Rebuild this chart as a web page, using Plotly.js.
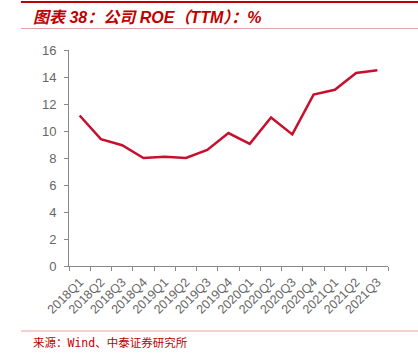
<!DOCTYPE html>
<html><head><meta charset="utf-8">
<script src="https://cdn.plot.ly/plotly-3.0.1.min.js"></script>
<style>html,body{margin:0;padding:0;background:#fff;}#c{width:418px;height:354px;}</style>
</head><body><div id="c"></div>
<script>
const quarters = ["2018Q1","2018Q2","2018Q3","2018Q4","2019Q1","2019Q2","2019Q3","2019Q4","2020Q1","2020Q2","2020Q3","2020Q4","2021Q1","2021Q2","2021Q3"];
const roe = [11.15, 9.4, 8.95, 8.0, 8.1, 8.0, 8.6, 9.85, 9.05, 11.0, 9.75, 12.7, 13.05, 14.3, 14.5];
const yTicks = [0,2,4,6,8,10,12,14,16];

const W=418,H=354,L=69,R=30,T=50,B=88;
const pw=W-L-R, ph=H-T-B;
const px = x => (x-L)/pw;
const py = y => (H-B-y)/ph;

Plotly.newPlot('c', [{
  x: quarters, y: roe, type:'scatter', mode:'lines',
  line:{color:'#c8102e', width:2.5}
}], {
  width:W, height:H,
  margin:{l:L,r:R,t:T,b:B},
  paper_bgcolor:'#fff', plot_bgcolor:'#fff',
  showlegend:false,
  font:{family:'Liberation Sans, Arial, sans-serif', color:'#666'},
  xaxis:{
    type:'category', tickangle:-45, tickson:'boundaries',
    ticks:'outside', ticklen:4, tickcolor:'#888',
    showline:true, linecolor:'#888', linewidth:1,
    showgrid:false, zeroline:false,
    tickfont:{size:12.5, color:'#666'},
    ticklabelstandoff:3,
    range:[-0.5,14.5]
  },
  yaxis:{
    range:[0,16], tickvals:yTicks,
    ticks:'outside', ticklen:4, tickcolor:'#888',
    showline:true, linecolor:'#888', linewidth:1,
    showgrid:false, zeroline:false,
    ticklabelstandoff:5,
    tickfont:{size:13, color:'#666'}
  },
  shapes:[
    {type:'line', xref:'paper', yref:'paper', x0:px(21), x1:px(418), y0:py(2), y1:py(2), line:{color:'#c00000', width:2}},
    {type:'line', xref:'paper', yref:'paper', x0:px(21), x1:px(418), y0:py(28.5), y1:py(28.5), line:{color:'#e8a0a0', width:1}},
    {type:'line', xref:'paper', yref:'paper', x0:px(21), x1:px(418), y0:py(331), y1:py(331), line:{color:'#e8a0a0', width:1}}
  ],
  annotations:[
    {xref:'paper', yref:'paper', x:px(31), y:py(17), xanchor:'left', yanchor:'middle', showarrow:false,
     text:'<b><i>图表 38：公司 ROE（TTM）：%</i></b>',
     font:{size:16, color:'#c00000', family:'Liberation Sans, Noto Sans CJK SC, sans-serif'}},
    {xref:'paper', yref:'paper', x:px(31), y:py(343), xanchor:'left', yanchor:'middle', showarrow:false,
     text:'来源：Wind、中泰证券研究所',
     font:{size:11.5, color:'#c00000', family:'DejaVu Sans Mono, Noto Sans CJK SC, monospace'}}
  ]
}, {staticPlot:true, displayModeBar:false});
</script></body></html>
